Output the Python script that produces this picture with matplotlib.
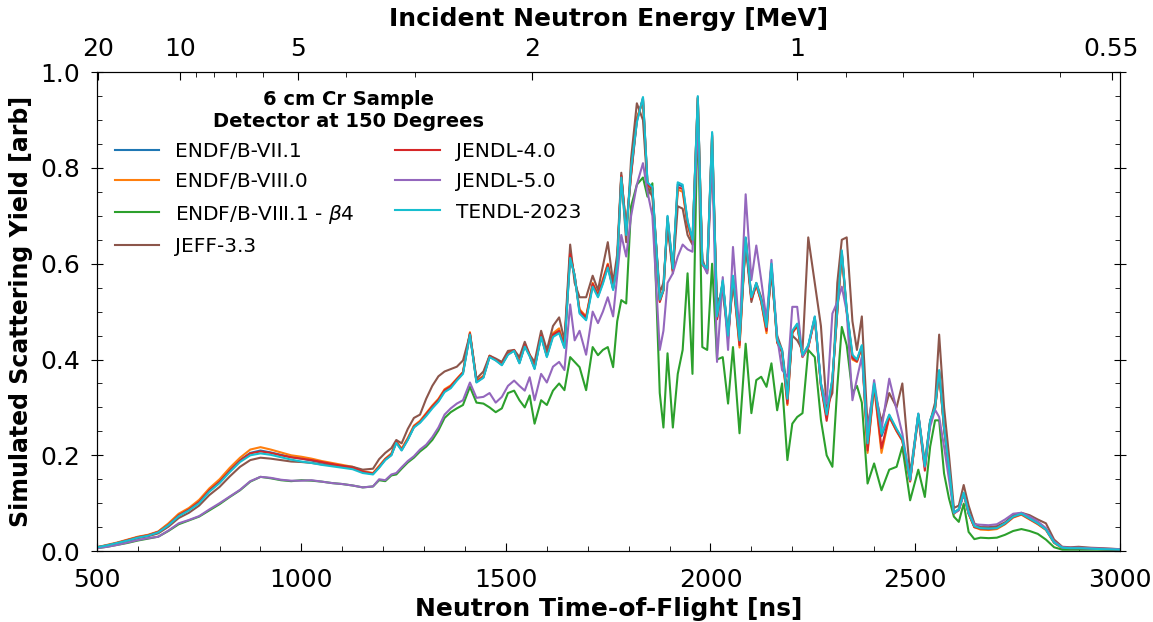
import numpy as np
import matplotlib
matplotlib.use("Agg")
import matplotlib.pyplot as plt

# neutron time-of-flight grid [ns]
tof = [500, 525, 550, 575, 600, 625, 650, 675, 700, 725, 750, 775, 800, 825,
       850, 875, 900, 925, 950, 975, 1000, 1025, 1050, 1075, 1100, 1125, 1150, 1175,
       1190, 1205, 1220, 1232, 1245, 1260, 1275, 1290, 1305, 1320,
       1335, 1350, 1365, 1380, 1395, 1412, 1428, 1445, 1460, 1475,
       1490, 1505, 1520, 1533, 1546, 1558, 1570, 1586, 1600, 1615,
       1630, 1643, 1657, 1668, 1680, 1696, 1712, 1725, 1737, 1749,
       1762, 1772, 1782, 1794, 1806, 1820, 1835, 1846, 1858, 1876,
       1885, 1895, 1908, 1920, 1932, 1944, 1956, 1969, 1980, 1992,
       2004, 2016, 2030, 2043, 2055, 2071, 2086, 2100, 2112, 2124,
       2137, 2149, 2163, 2175, 2188, 2200, 2212, 2225, 2239, 2255,
       2270, 2284, 2298, 2310, 2321, 2333, 2347, 2358, 2370, 2384,
       2400, 2418, 2437, 2455, 2469, 2488, 2508, 2524, 2537, 2549,
       2559, 2571, 2583, 2595, 2607, 2619, 2631, 2645,
       2660, 2680, 2700, 2720, 2740, 2760, 2780, 2800, 2820, 2840,
       2860, 2880, 2900, 2930, 2960, 3000]

endf71 = [0.008, 0.012, 0.017, 0.023, 0.029, 0.033, 0.040, 0.056, 0.075, 0.087, 0.103, 0.127, 0.146, 0.169,
          0.190, 0.205, 0.210, 0.206, 0.201, 0.196, 0.193, 0.189, 0.185, 0.181, 0.177, 0.173, 0.165, 0.161,
          0.175, 0.191, 0.201, 0.227, 0.211, 0.233, 0.259, 0.269, 0.284, 0.300,
          0.314, 0.334, 0.342, 0.358, 0.372, 0.453, 0.353, 0.363, 0.406, 0.399,
          0.389, 0.411, 0.419, 0.393, 0.429, 0.408, 0.382, 0.449, 0.407, 0.450,
          0.458, 0.426, 0.615, 0.576, 0.499, 0.485, 0.555, 0.532, 0.561, 0.595,
          0.547, 0.602, 0.782, 0.676, 0.785, 0.898, 0.946, 0.768, 0.758, 0.524,
          0.545, 0.698, 0.588, 0.766, 0.761, 0.688, 0.648, 0.948, 0.600, 0.588,
          0.872, 0.488, 0.563, 0.448, 0.573, 0.436, 0.654, 0.528, 0.558, 0.523,
          0.465, 0.598, 0.438, 0.418, 0.314, 0.458, 0.473, 0.408, 0.428, 0.488,
          0.348, 0.283, 0.358, 0.503, 0.625, 0.503, 0.408, 0.398, 0.428, 0.220,
          0.348, 0.240, 0.283, 0.253, 0.233, 0.148, 0.285, 0.177, 0.272, 0.299,
          0.376, 0.257, 0.174, 0.080, 0.087, 0.121, 0.079, 0.051,
          0.049, 0.048, 0.049, 0.059, 0.073, 0.079, 0.069, 0.059, 0.046, 0.018,
          0.007, 0.006, 0.006, 0.005, 0.004, 0.003]

endf80 = [0.008, 0.013, 0.018, 0.024, 0.030, 0.034, 0.041, 0.058, 0.078, 0.090, 0.107, 0.131, 0.150, 0.174,
          0.195, 0.212, 0.217, 0.212, 0.206, 0.200, 0.197, 0.193, 0.188, 0.184, 0.180, 0.176, 0.167, 0.163,
          0.178, 0.193, 0.204, 0.230, 0.214, 0.236, 0.262, 0.272, 0.288, 0.304,
          0.318, 0.338, 0.346, 0.360, 0.374, 0.457, 0.356, 0.366, 0.408, 0.400,
          0.392, 0.414, 0.420, 0.396, 0.432, 0.410, 0.385, 0.452, 0.410, 0.455,
          0.465, 0.430, 0.625, 0.572, 0.505, 0.490, 0.560, 0.536, 0.568, 0.600,
          0.550, 0.605, 0.785, 0.670, 0.790, 0.905, 0.940, 0.765, 0.755, 0.522,
          0.545, 0.690, 0.585, 0.755, 0.750, 0.680, 0.645, 0.945, 0.600, 0.585,
          0.865, 0.485, 0.560, 0.445, 0.570, 0.425, 0.650, 0.525, 0.555, 0.520,
          0.455, 0.595, 0.435, 0.415, 0.305, 0.455, 0.470, 0.405, 0.425, 0.485,
          0.345, 0.280, 0.355, 0.500, 0.620, 0.500, 0.400, 0.395, 0.425, 0.205,
          0.345, 0.205, 0.280, 0.250, 0.230, 0.145, 0.282, 0.175, 0.270, 0.297,
          0.372, 0.255, 0.172, 0.078, 0.086, 0.120, 0.078, 0.050,
          0.045, 0.044, 0.046, 0.056, 0.070, 0.076, 0.066, 0.056, 0.044, 0.017,
          0.006, 0.006, 0.006, 0.005, 0.004, 0.003]

endf81b4 = [0.006, 0.009, 0.013, 0.017, 0.022, 0.026, 0.030, 0.042, 0.056, 0.064, 0.072, 0.085, 0.098, 0.113,
            0.127, 0.145, 0.155, 0.152, 0.148, 0.146, 0.148, 0.147, 0.145, 0.142, 0.140, 0.137, 0.133, 0.135,
            0.148, 0.146, 0.158, 0.160, 0.172, 0.185, 0.195, 0.208, 0.218, 0.232,
            0.252, 0.278, 0.290, 0.298, 0.305, 0.343, 0.310, 0.308, 0.300, 0.290,
            0.298, 0.330, 0.335, 0.315, 0.300, 0.325, 0.266, 0.315, 0.305, 0.335,
            0.350, 0.336, 0.405, 0.395, 0.384, 0.336, 0.426, 0.409, 0.420, 0.426,
            0.384, 0.480, 0.524, 0.517, 0.720, 0.765, 0.780, 0.740, 0.768, 0.330,
            0.258, 0.413, 0.258, 0.370, 0.420, 0.580, 0.370, 0.930, 0.426, 0.420,
            0.600, 0.400, 0.405, 0.308, 0.426, 0.246, 0.433, 0.288, 0.357, 0.364,
            0.343, 0.392, 0.294, 0.350, 0.190, 0.266, 0.280, 0.288, 0.420, 0.405,
            0.274, 0.200, 0.176, 0.343, 0.468, 0.430, 0.330, 0.345, 0.310, 0.141,
            0.183, 0.127, 0.170, 0.176, 0.218, 0.106, 0.170, 0.113, 0.218, 0.273,
            0.273, 0.162, 0.110, 0.072, 0.061, 0.099, 0.040, 0.025,
            0.028, 0.027, 0.028, 0.034, 0.042, 0.046, 0.042, 0.036, 0.024, 0.008,
            0.003, 0.003, 0.003, 0.003, 0.003, 0.002]

jeff33 = [0.007, 0.011, 0.016, 0.021, 0.027, 0.031, 0.037, 0.051, 0.069, 0.080, 0.095, 0.117, 0.134, 0.156,
          0.176, 0.190, 0.195, 0.193, 0.190, 0.187, 0.186, 0.184, 0.181, 0.179, 0.178, 0.176, 0.170, 0.172,
          0.192, 0.205, 0.215, 0.232, 0.225, 0.255, 0.278, 0.285, 0.318, 0.345,
          0.365, 0.375, 0.380, 0.385, 0.398, 0.452, 0.360, 0.375, 0.408, 0.402,
          0.395, 0.418, 0.420, 0.405, 0.437, 0.410, 0.395, 0.460, 0.420, 0.470,
          0.488, 0.440, 0.640, 0.560, 0.530, 0.530, 0.575, 0.545, 0.595, 0.645,
          0.560, 0.620, 0.790, 0.645, 0.820, 0.935, 0.900, 0.760, 0.740, 0.540,
          0.560, 0.680, 0.580, 0.720, 0.715, 0.660, 0.640, 0.900, 0.610, 0.580,
          0.830, 0.520, 0.540, 0.450, 0.560, 0.460, 0.640, 0.520, 0.560, 0.530,
          0.480, 0.580, 0.450, 0.420, 0.330, 0.450, 0.440, 0.420, 0.655, 0.560,
          0.470, 0.300, 0.330, 0.560, 0.650, 0.655, 0.480, 0.420, 0.490, 0.260,
          0.340, 0.270, 0.330, 0.300, 0.350, 0.160, 0.285, 0.185, 0.270, 0.310,
          0.452, 0.300, 0.200, 0.090, 0.095, 0.138, 0.095, 0.058,
          0.050, 0.050, 0.052, 0.060, 0.075, 0.080, 0.075, 0.066, 0.058, 0.024,
          0.009, 0.008, 0.009, 0.007, 0.006, 0.004]

jendl40 = [0.008, 0.012, 0.017, 0.023, 0.029, 0.033, 0.040, 0.055, 0.075, 0.087, 0.103, 0.127, 0.145, 0.168,
           0.189, 0.204, 0.208, 0.205, 0.200, 0.196, 0.193, 0.190, 0.186, 0.182, 0.178, 0.174, 0.166, 0.162,
           0.176, 0.192, 0.202, 0.228, 0.212, 0.234, 0.260, 0.270, 0.286, 0.302,
           0.316, 0.336, 0.344, 0.359, 0.373, 0.455, 0.354, 0.364, 0.407, 0.399,
           0.390, 0.412, 0.419, 0.394, 0.430, 0.409, 0.383, 0.450, 0.408, 0.452,
           0.460, 0.428, 0.620, 0.574, 0.502, 0.488, 0.558, 0.534, 0.565, 0.598,
           0.548, 0.603, 0.783, 0.672, 0.788, 0.900, 0.944, 0.766, 0.756, 0.520,
           0.544, 0.694, 0.586, 0.760, 0.756, 0.684, 0.646, 0.946, 0.598, 0.586,
           0.868, 0.484, 0.561, 0.443, 0.571, 0.430, 0.652, 0.526, 0.556, 0.521,
           0.460, 0.596, 0.436, 0.416, 0.308, 0.456, 0.471, 0.406, 0.426, 0.486,
           0.346, 0.272, 0.356, 0.501, 0.622, 0.501, 0.403, 0.396, 0.426, 0.210,
           0.346, 0.215, 0.281, 0.251, 0.231, 0.146, 0.283, 0.168, 0.271, 0.298,
           0.374, 0.256, 0.173, 0.079, 0.086, 0.120, 0.078, 0.050,
           0.047, 0.046, 0.048, 0.057, 0.071, 0.077, 0.067, 0.057, 0.045, 0.018,
           0.007, 0.006, 0.006, 0.005, 0.004, 0.003]

jendl50 = [0.006, 0.009, 0.013, 0.018, 0.023, 0.027, 0.030, 0.043, 0.058, 0.065, 0.073, 0.087, 0.100, 0.114,
           0.128, 0.146, 0.155, 0.153, 0.149, 0.147, 0.147, 0.148, 0.145, 0.142, 0.140, 0.137, 0.133, 0.135,
           0.150, 0.148, 0.160, 0.163, 0.175, 0.188, 0.198, 0.212, 0.222, 0.238,
           0.258, 0.285, 0.298, 0.308, 0.315, 0.352, 0.320, 0.322, 0.330, 0.310,
           0.322, 0.345, 0.356, 0.345, 0.335, 0.363, 0.315, 0.370, 0.352, 0.385,
           0.395, 0.378, 0.515, 0.440, 0.460, 0.410, 0.500, 0.476, 0.500, 0.530,
           0.490, 0.575, 0.660, 0.615, 0.700, 0.765, 0.810, 0.750, 0.700, 0.420,
           0.460, 0.560, 0.580, 0.615, 0.640, 0.630, 0.625, 0.900, 0.600, 0.580,
           0.840, 0.395, 0.572, 0.420, 0.635, 0.455, 0.745, 0.566, 0.638, 0.566,
           0.482, 0.608, 0.447, 0.378, 0.364, 0.510, 0.510, 0.406, 0.427, 0.489,
           0.350, 0.308, 0.496, 0.520, 0.552, 0.500, 0.315, 0.360, 0.406, 0.245,
           0.357, 0.253, 0.360, 0.295, 0.245, 0.148, 0.287, 0.176, 0.260, 0.295,
           0.280, 0.218, 0.150, 0.079, 0.085, 0.120, 0.080, 0.056,
           0.055, 0.054, 0.056, 0.066, 0.078, 0.080, 0.072, 0.062, 0.048, 0.020,
           0.008, 0.007, 0.007, 0.006, 0.005, 0.004]

tendl23 = [0.008, 0.012, 0.017, 0.022, 0.028, 0.032, 0.039, 0.054, 0.073, 0.085, 0.100, 0.124, 0.142, 0.165,
           0.186, 0.200, 0.204, 0.201, 0.196, 0.191, 0.187, 0.184, 0.180, 0.177, 0.174, 0.171, 0.163, 0.160,
           0.174, 0.190, 0.200, 0.226, 0.210, 0.232, 0.258, 0.268, 0.282, 0.298,
           0.312, 0.332, 0.340, 0.356, 0.370, 0.452, 0.352, 0.362, 0.405, 0.398,
           0.388, 0.410, 0.418, 0.392, 0.427, 0.407, 0.380, 0.447, 0.405, 0.447,
           0.455, 0.424, 0.612, 0.575, 0.496, 0.482, 0.552, 0.530, 0.558, 0.592,
           0.545, 0.600, 0.780, 0.660, 0.800, 0.895, 0.948, 0.770, 0.760, 0.525,
           0.545, 0.700, 0.590, 0.770, 0.765, 0.690, 0.650, 0.950, 0.600, 0.590,
           0.875, 0.490, 0.565, 0.450, 0.575, 0.440, 0.655, 0.530, 0.560, 0.525,
           0.468, 0.600, 0.440, 0.420, 0.318, 0.460, 0.475, 0.410, 0.430, 0.490,
           0.350, 0.285, 0.360, 0.505, 0.628, 0.505, 0.410, 0.400, 0.430, 0.225,
           0.350, 0.245, 0.285, 0.255, 0.235, 0.150, 0.287, 0.178, 0.273, 0.300,
           0.378, 0.258, 0.175, 0.080, 0.088, 0.122, 0.080, 0.052,
           0.048, 0.047, 0.048, 0.058, 0.072, 0.078, 0.068, 0.058, 0.045, 0.018,
           0.007, 0.006, 0.006, 0.005, 0.004, 0.003]

labels = ['ENDF/B-VII.1', 'ENDF/B-VIII.0', r'ENDF/B-VIII.1 - $\beta$4', 'JEFF-3.3',
          'JENDL-4.0', 'JENDL-5.0', 'TENDL-2023']
colors = ['#1f77b4', '#ff7f0e', '#2ca02c', '#8c564b', '#d62728', '#9467bd', '#17becf']
series = [endf71, endf80, endf81b4, jeff33, jendl40, jendl50, tendl23]

# energy ticks for the top axis [MeV]
energy_major = [20, 10, 5, 2, 1, 0.55]
energy_minor = [9, 8, 7, 6, 4, 3, 0.9, 0.8, 0.7, 0.6]
flight_path = 30.56  # m


def tof_from_energy(e_mev):
    gamma = 1.0 + np.asarray(e_mev, dtype=float) / 939.565
    beta = np.sqrt(1.0 - 1.0 / gamma**2)
    return flight_path / (beta * 2.998e8) * 1e9


fig, ax = plt.subplots(figsize=(11.53, 6.22), dpi=100)
fig.subplots_adjust(left=0.084, right=0.971, bottom=0.114, top=0.884)

for y, lab, c in zip(series, labels, colors):
    ax.plot(tof, y, color=c, label=lab, linewidth=1.5)

ax.set_xlim(500, 3000)
ax.set_ylim(0, 1.0)
ax.set_xticks(np.arange(500, 3001, 500))
ax.set_xticks(np.arange(500, 3001, 100), minor=True)
ax.set_yticks(np.arange(0, 1.01, 0.2))
ax.set_yticks(np.arange(0, 1.01, 0.05), minor=True)
ax.yaxis.set_major_formatter(matplotlib.ticker.FormatStrFormatter('%.1f'))
ax.tick_params(which='both', direction='in', labelsize=18, right=True)
ax.tick_params(which='major', length=6)
ax.tick_params(which='minor', length=3.5)
ax.tick_params(axis='x', which='major', pad=12)
ax.tick_params(axis='y', which='major', direction='inout', length=8, pad=8)

ax.set_xlabel('Neutron Time-of-Flight [ns]', fontsize=18, fontweight='bold')
ax.set_ylabel('Simulated Scattering Yield [arb]', fontsize=17, fontweight='bold')
ax.xaxis.set_label_coords(0.5, -0.095)
ax.yaxis.set_label_coords(-0.062, 0.5)

top = ax.twiny()
top.set_xlim(ax.get_xlim())
top.set_xticks(tof_from_energy(energy_major))
top.set_xticklabels([str(e) for e in energy_major])
top.set_xticks(tof_from_energy(energy_minor), minor=True)
top.tick_params(which='both', direction='in', labelsize=18)
top.tick_params(which='major', length=6, pad=8)
top.tick_params(which='minor', length=3.5)
top.set_xlabel('Incident Neutron Energy [MeV]', fontsize=18, fontweight='bold', labelpad=8)

leg = ax.legend(ncol=2, loc='upper left', frameon=False, fontsize=14.5,
                title='6 cm Cr Sample\nDetector at 150 Degrees',
                title_fontproperties={'weight': 'bold', 'size': 14},
                handlelength=2.2, columnspacing=2.0, labelspacing=0.55)
leg.get_title().set_multialignment('center')

fig.savefig('out.png', dpi=100)
